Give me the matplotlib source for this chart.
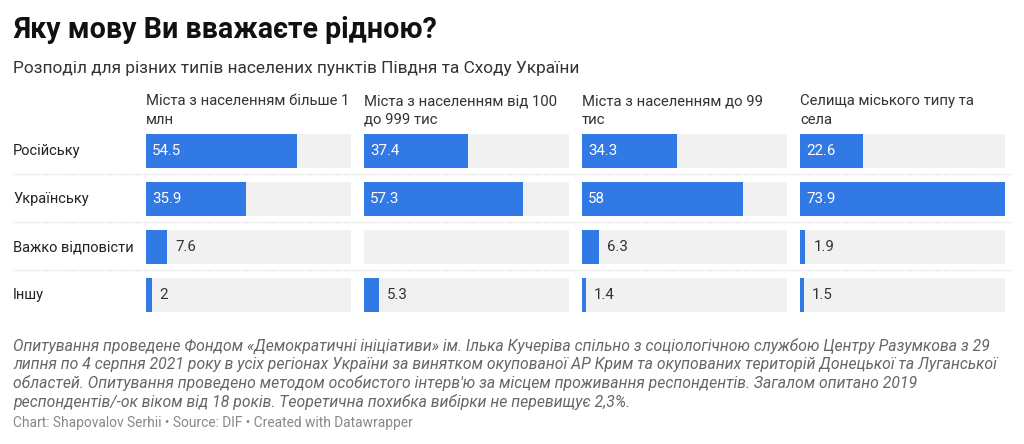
import matplotlib
matplotlib.use("Agg")
import matplotlib.pyplot as plt
from matplotlib.lines import Line2D

plt.rcParams['font.family'] = ['Roboto', 'DejaVu Sans']

categories = ["Російську", "Українську", "Важко відповісти", "Іншу"]
columns = [
    ["Міста з населенням більше 1", "млн"],
    ["Міста з населенням від 100", "до 999 тис"],
    ["Міста з населенням до 99", "тис"],
    ["Селища міського типу та", "села"],
]
values = [
    [54.5, 35.9, 7.6, 2],
    [37.4, 57.3, None, 5.3],
    [34.3, 58, 6.3, 1.4],
    [22.6, 73.9, 1.9, 1.5],
]
labels = [
    ["54.5", "35.9", "7.6", "2"],
    ["37.4", "57.3", "", "5.3"],
    ["34.3", "58", "6.3", "1.4"],
    ["22.6", "73.9", "1.9", "1.5"],
]
title = "Яку мову Ви вважаєте рідною?"
subtitle = "Розподіл для різних типів населених пунктів Півдня та Сходу України"
notes = [
    "Опитування проведене Фондом «Демократичні ініціативи» ім. Ілька Кучеріва спільно з соціологічною службою Центру Разумкова з 29",
    "липня по 4 серпня 2021 року в усіх регіонах України за винятком окупованої АР Крим та окупованих територій Донецької та Луганської",
    "областей. Опитування проведено методом особистого інтерв'ю за місцем проживання респондентів. Загалом опитано 2019",
    "респондентів/-ок віком від 18 років. Теоретична похибка вибірки не перевищує 2,3%.",
]
credit = "Chart: Shapovalov Serhii • Source: DIF • Created with Datawrapper"

W, H = 1024, 444
BLUE = "#3179e4"
BG = "#f1f1f1"

fig = plt.figure(figsize=(W / 100, H / 100), dpi=100)
fig.patch.set_facecolor("white")

def fx(x):
    return x / W

def fy(y):
    return 1 - y / H

fig.text(fx(13), fy(30), title, fontsize=20.6, fontweight="bold", color="#111111", va="center", ha="left")
fig.text(fx(13), fy(69), subtitle, fontsize=12.4, color="#333333", va="center", ha="left")

vmax = max(v for col in values for v in col if v is not None)

col_x = [146, 364, 582, 800]
col_w = 205
top, bottom = 127, 319

for ci, (cx, head) in enumerate(zip(col_x, columns)):
    fig.text(fx(cx), fy(101), head[0], fontsize=10.7, color="#333333", va="center", ha="left")
    fig.text(fx(cx), fy(120), head[1], fontsize=10.7, color="#333333", va="center", ha="left")
    ax = fig.add_axes([fx(cx), fy(bottom), col_w / W, (bottom - top) / H])
    ax.set_xlim(0, vmax)
    ax.set_ylim(len(categories) - 0.5, -0.5)
    ax.axis("off")
    ys = list(range(len(categories)))
    ax.barh(ys, [vmax] * len(ys), height=34 / 48, color=BG, edgecolor="none")
    for ri, v in enumerate(values[ci]):
        if v is None:
            continue
        ax.barh(ri, v, height=34 / 48, color=BLUE, edgecolor="none")
        if v > 15:
            ax.annotate(labels[ci][ri], (0, ri), xytext=(6, 0), textcoords="offset pixels",
                        color="white", fontsize=10.8, va="center", ha="left")
        else:
            ax.annotate(labels[ci][ri], (v, ri), xytext=(8, 0), textcoords="offset pixels",
                        color="#333333", fontsize=10.8, va="center", ha="left")

row_y = [151, 199, 247, 295]
for lab, ry in zip(categories, row_y):
    fig.text(fx(13), fy(ry), lab, fontsize=10.5, color="#222222", va="center", ha="left")

for sy in [174, 222, 270]:
    fig.add_artist(Line2D([fx(13), fx(1011)], [fy(sy), fy(sy)], color="#dddddd",
                          linewidth=1, linestyle=(0, (1, 1))))

for i, line in enumerate(notes):
    fig.text(fx(13), fy(346 + i * 18.5), line, fontsize=11.3, style="italic", color="#666666",
             va="center", ha="left")
fig.text(fx(13), fy(423), credit, fontsize=9.9, color="#888888", va="center", ha="left")

fig.savefig("out.png", dpi=100, facecolor="white")
